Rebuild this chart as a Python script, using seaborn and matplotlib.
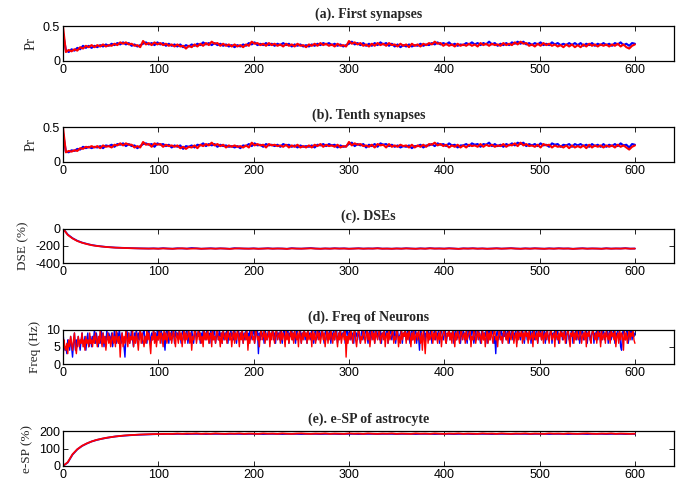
import matplotlib
matplotlib.use("Agg")
import matplotlib.pyplot as plt
from matplotlib.ticker import FormatStrFormatter
import seaborn as sns
import numpy as np

# ---- data (time axis 0..600) ----
# Pr, sampled every 3 time units
pr_first_blue = [
    0.40, 0.16, 0.13, 0.17, 0.15, 0.19, 0.17, 0.22, 0.19, 0.22,
    0.19, 0.22, 0.20, 0.23, 0.21, 0.24, 0.22, 0.25, 0.23, 0.26,
    0.24, 0.27, 0.24, 0.26, 0.22, 0.24, 0.21, 0.23, 0.25, 0.27,
    0.24, 0.26, 0.23, 0.27, 0.24, 0.26, 0.22, 0.25, 0.22, 0.24,
    0.21, 0.24, 0.20, 0.23, 0.21, 0.24, 0.22, 0.25, 0.23, 0.27,
    0.24, 0.26, 0.23, 0.26, 0.23, 0.25, 0.22, 0.24, 0.21, 0.23,
    0.20, 0.23, 0.21, 0.24, 0.22, 0.26, 0.24, 0.27, 0.23, 0.25,
    0.23, 0.26, 0.23, 0.25, 0.22, 0.25, 0.23, 0.26, 0.23, 0.25,
    0.21, 0.24, 0.22, 0.24, 0.21, 0.23, 0.21, 0.24, 0.22, 0.25,
    0.23, 0.26, 0.24, 0.26, 0.23, 0.25, 0.22, 0.24, 0.21, 0.23,
    0.25, 0.28, 0.24, 0.26, 0.23, 0.26, 0.22, 0.25, 0.22, 0.26,
    0.23, 0.27, 0.24, 0.26, 0.22, 0.25, 0.21, 0.24, 0.20, 0.23,
    0.21, 0.24, 0.21, 0.23, 0.22, 0.25, 0.22, 0.24, 0.23, 0.26,
    0.24, 0.27, 0.24, 0.26, 0.24, 0.27, 0.23, 0.25, 0.22, 0.24,
    0.23, 0.26, 0.24, 0.27, 0.24, 0.26, 0.23, 0.26, 0.24, 0.28,
    0.24, 0.26, 0.22, 0.25, 0.23, 0.26, 0.23, 0.27, 0.25, 0.28,
    0.25, 0.28, 0.24, 0.26, 0.23, 0.26, 0.24, 0.27, 0.23, 0.25,
    0.23, 0.27, 0.24, 0.26, 0.23, 0.25, 0.23, 0.26, 0.23, 0.26,
    0.23, 0.26, 0.22, 0.25, 0.23, 0.26, 0.22, 0.25, 0.23, 0.26,
    0.23, 0.25, 0.22, 0.26, 0.24, 0.27, 0.23, 0.25, 0.22, 0.26,
    0.25,
]
pr_first_red = [
    0.50, 0.13, 0.16, 0.14, 0.17, 0.15, 0.20, 0.18, 0.22, 0.20,
    0.23, 0.20, 0.23, 0.21, 0.24, 0.21, 0.23, 0.22, 0.25, 0.23,
    0.27, 0.25, 0.27, 0.24, 0.25, 0.22, 0.23, 0.20, 0.29, 0.24,
    0.26, 0.23, 0.27, 0.24, 0.26, 0.23, 0.25, 0.22, 0.24, 0.21,
    0.24, 0.21, 0.22, 0.18, 0.22, 0.20, 0.24, 0.21, 0.25, 0.22,
    0.26, 0.23, 0.28, 0.25, 0.26, 0.22, 0.25, 0.22, 0.24, 0.21,
    0.24, 0.21, 0.23, 0.20, 0.24, 0.22, 0.28, 0.25, 0.26, 0.23,
    0.25, 0.22, 0.26, 0.23, 0.25, 0.22, 0.24, 0.21, 0.25, 0.22,
    0.24, 0.21, 0.25, 0.22, 0.23, 0.20, 0.24, 0.22, 0.25, 0.22,
    0.26, 0.23, 0.25, 0.22, 0.24, 0.21, 0.25, 0.22, 0.23, 0.21,
    0.29, 0.25, 0.27, 0.24, 0.26, 0.22, 0.24, 0.21, 0.25, 0.22,
    0.26, 0.23, 0.25, 0.22, 0.26, 0.23, 0.24, 0.21, 0.25, 0.22,
    0.24, 0.20, 0.25, 0.22, 0.24, 0.21, 0.25, 0.23, 0.26, 0.24,
    0.28, 0.25, 0.26, 0.22, 0.25, 0.22, 0.24, 0.21, 0.25, 0.22,
    0.24, 0.22, 0.25, 0.22, 0.24, 0.21, 0.26, 0.23, 0.25, 0.22,
    0.25, 0.23, 0.24, 0.22, 0.26, 0.23, 0.25, 0.23, 0.27, 0.24,
    0.28, 0.25, 0.26, 0.22, 0.24, 0.21, 0.25, 0.22, 0.26, 0.23,
    0.25, 0.22, 0.24, 0.21, 0.23, 0.20, 0.24, 0.21, 0.24, 0.20,
    0.23, 0.20, 0.24, 0.21, 0.25, 0.22, 0.24, 0.21, 0.24, 0.22,
    0.24, 0.21, 0.24, 0.22, 0.25, 0.21, 0.24, 0.20, 0.18, 0.22,
    0.24,
]
pr_tenth_blue = [
    0.42, 0.15, 0.14, 0.17, 0.16, 0.19, 0.18, 0.22, 0.20, 0.22,
    0.20, 0.22, 0.21, 0.23, 0.20, 0.24, 0.23, 0.25, 0.22, 0.26,
    0.25, 0.27, 0.23, 0.26, 0.23, 0.24, 0.20, 0.23, 0.26, 0.27,
    0.25, 0.26, 0.22, 0.27, 0.25, 0.26, 0.23, 0.25, 0.21, 0.24,
    0.22, 0.24, 0.19, 0.23, 0.22, 0.24, 0.21, 0.25, 0.24, 0.27,
    0.23, 0.26, 0.24, 0.26, 0.22, 0.25, 0.23, 0.24, 0.22, 0.23,
    0.21, 0.23, 0.20, 0.24, 0.23, 0.26, 0.23, 0.27, 0.24, 0.25,
    0.22, 0.26, 0.24, 0.25, 0.23, 0.25, 0.22, 0.26, 0.24, 0.25,
    0.22, 0.24, 0.21, 0.24, 0.22, 0.23, 0.22, 0.24, 0.21, 0.25,
    0.24, 0.26, 0.23, 0.26, 0.24, 0.25, 0.21, 0.24, 0.22, 0.23,
    0.26, 0.28, 0.23, 0.26, 0.24, 0.26, 0.21, 0.25, 0.23, 0.26,
    0.22, 0.27, 0.25, 0.26, 0.23, 0.25, 0.22, 0.24, 0.21, 0.23,
    0.22, 0.24, 0.20, 0.23, 0.23, 0.25, 0.21, 0.24, 0.24, 0.26,
    0.23, 0.27, 0.25, 0.26, 0.23, 0.27, 0.24, 0.25, 0.21, 0.24,
    0.24, 0.26, 0.23, 0.27, 0.25, 0.26, 0.22, 0.26, 0.25, 0.28,
    0.23, 0.26, 0.23, 0.25, 0.22, 0.26, 0.24, 0.27, 0.24, 0.28,
    0.26, 0.28, 0.23, 0.26, 0.24, 0.26, 0.23, 0.27, 0.24, 0.25,
    0.22, 0.27, 0.25, 0.26, 0.22, 0.25, 0.24, 0.26, 0.22, 0.26,
    0.24, 0.26, 0.23, 0.25, 0.22, 0.26, 0.23, 0.25, 0.22, 0.26,
    0.22, 0.25, 0.23, 0.26, 0.23, 0.27, 0.24, 0.25, 0.21, 0.26,
    0.25,
]
pr_tenth_red = [
    0.50, 0.14, 0.16, 0.15, 0.17, 0.16, 0.20, 0.19, 0.22, 0.21,
    0.23, 0.21, 0.23, 0.20, 0.24, 0.22, 0.23, 0.21, 0.25, 0.24,
    0.27, 0.24, 0.27, 0.25, 0.25, 0.21, 0.23, 0.21, 0.29, 0.25,
    0.26, 0.22, 0.27, 0.25, 0.26, 0.22, 0.25, 0.23, 0.24, 0.22,
    0.24, 0.20, 0.22, 0.19, 0.22, 0.21, 0.24, 0.20, 0.25, 0.23,
    0.26, 0.24, 0.28, 0.24, 0.26, 0.23, 0.25, 0.21, 0.24, 0.22,
    0.24, 0.22, 0.23, 0.21, 0.24, 0.21, 0.28, 0.24, 0.26, 0.24,
    0.25, 0.21, 0.26, 0.24, 0.25, 0.23, 0.24, 0.22, 0.25, 0.21,
    0.24, 0.22, 0.25, 0.21, 0.23, 0.21, 0.24, 0.21, 0.25, 0.23,
    0.26, 0.22, 0.25, 0.23, 0.24, 0.22, 0.25, 0.21, 0.23, 0.22,
    0.29, 0.24, 0.27, 0.25, 0.26, 0.23, 0.24, 0.22, 0.25, 0.21,
    0.26, 0.24, 0.25, 0.21, 0.26, 0.22, 0.24, 0.22, 0.25, 0.23,
    0.24, 0.21, 0.25, 0.21, 0.24, 0.22, 0.25, 0.22, 0.26, 0.25,
    0.28, 0.24, 0.26, 0.23, 0.25, 0.21, 0.24, 0.22, 0.25, 0.21,
    0.24, 0.21, 0.25, 0.23, 0.24, 0.22, 0.26, 0.22, 0.25, 0.23,
    0.25, 0.22, 0.24, 0.23, 0.26, 0.22, 0.25, 0.24, 0.27, 0.23,
    0.28, 0.24, 0.26, 0.23, 0.24, 0.22, 0.25, 0.21, 0.26, 0.24,
    0.25, 0.21, 0.24, 0.22, 0.23, 0.21, 0.24, 0.20, 0.24, 0.21,
    0.23, 0.21, 0.24, 0.20, 0.25, 0.21, 0.24, 0.22, 0.24, 0.21,
    0.24, 0.22, 0.24, 0.21, 0.25, 0.22, 0.24, 0.21, 0.18, 0.22,
    0.24,
]

# DSE (%), sampled every 5 time units
dse_blue = [
    0, -70, -112, -142, -163, -178, -191, -200, -207, -213,
    -217, -221, -223, -225, -227, -229, -230, -231, -232, -230,
    -233, -228, -232, -234, -229, -231, -233, -226, -230, -234,
    -232, -229, -233, -230, -232, -235, -228, -231, -232, -233,
    -230, -234, -232, -229, -233, -231, -232, -235, -228, -232,
    -233, -230, -227, -232, -234, -231, -233, -229, -232, -230,
    -234, -232, -229, -233, -231, -232, -228, -233, -232, -234,
    -231, -233, -229, -232, -234, -230, -233, -228, -232, -231,
    -233, -229, -232, -235, -230, -232, -229, -233, -231, -234,
    -232, -229, -233, -231, -228, -232, -234, -230, -233, -229,
    -232, -234, -230, -233, -229, -232, -231, -235, -232, -229,
    -233, -231, -232, -234, -229, -233, -231, -232, -228, -233,
    -232,
]
dse_red = [
    0, -75, -115, -145, -165, -180, -193, -202, -208, -214,
    -218, -222, -224, -226, -228, -229, -231, -232, -233, -232,
    -234, -231, -233, -235, -232, -230, -234, -233, -231, -235,
    -233, -232, -234, -231, -233, -236, -232, -230, -233, -234,
    -232, -235, -233, -231, -234, -232, -233, -236, -231, -233,
    -234, -232, -230, -233, -235, -232, -234, -231, -233, -232,
    -235, -233, -231, -234, -232, -233, -230, -234, -233, -235,
    -232, -234, -231, -233, -235, -232, -234, -230, -233, -232,
    -234, -231, -233, -236, -232, -233, -231, -234, -232, -235,
    -233, -231, -234, -232, -230, -233, -235, -232, -234, -231,
    -233, -235, -232, -234, -231, -233, -232, -236, -233, -231,
    -234, -232, -233, -235, -231, -234, -232, -233, -230, -234,
    -233,
]

# firing frequency (Hz), every time unit
freq_blue = [
    9, 6, 4, 5, 3, 7, 6, 4, 8, 5, 2, 6, 9, 4, 7, 5, 8, 6, 4, 7, 9, 6, 5, 8, 4, 7, 9, 5, 6, 8,
    5, 8, 7, 10, 6, 9, 7, 5, 8, 6, 10, 7, 9, 5, 8, 6, 10, 7, 9, 8, 6, 9, 5, 7, 10, 8, 6, 9, 7, 10,
    8, 6, 9, 7, 5, 2, 8, 10, 7, 9, 6, 8, 10, 7, 5, 9, 8, 10, 6, 9, 7, 10, 8, 6, 9, 10, 7, 8, 6, 9,
    10, 8, 6, 9, 7, 10, 8, 9, 6, 10, 7, 9, 8, 10, 6, 9, 7, 4, 9, 10, 8, 6, 9, 7, 10, 8, 9, 6, 10, 8,
    9, 7, 10, 8, 6, 9, 10, 7, 8, 9, 10, 6, 8, 9, 7, 10, 8, 6, 9, 10, 7, 9, 8, 10, 6, 9, 7, 10, 8, 9,
    7, 10, 8, 9, 6, 10, 8, 7, 9, 10, 6, 8, 9, 7, 10, 8, 9, 6, 10, 7, 9, 8, 10, 6, 9, 7, 10, 8, 9, 7,
    10, 8, 6, 9, 10, 7, 9, 8, 10, 6, 9, 7, 10, 8, 9, 6, 10, 7, 8, 9, 10, 6, 8, 9, 10, 3, 9, 7, 10, 8,
    9, 6, 10, 8, 7, 9, 10, 6, 8, 9, 10, 7, 9, 6, 10, 8, 9, 7, 10, 8, 6, 9, 10, 7, 8, 9, 10, 6, 9, 8,
    10, 7, 9, 8, 6, 10, 9, 7, 8, 10, 6, 9, 8, 10, 7, 9, 6, 10, 8, 9, 7, 10, 8, 6, 9, 10, 7, 8, 9, 10,
    7, 9, 10, 8, 6, 9, 10, 7, 8, 9, 10, 6, 9, 8, 10, 7, 9, 10, 6, 8, 9, 10, 7, 9, 8, 10, 6, 9, 10, 8,
    9, 10, 7, 8, 9, 6, 10, 8, 9, 7, 10, 8, 6, 9, 10, 8, 7, 9, 10, 8, 6, 9, 10, 7, 9, 8, 10, 6, 9, 10,
    8, 9, 7, 10, 6, 9, 8, 10, 7, 9, 10, 6, 8, 9, 10, 7, 9, 8, 10, 6, 9, 10, 7, 8, 9, 10, 6, 9, 8, 10,
    7, 9, 10, 8, 6, 9, 10, 7, 8, 9, 10, 6, 9, 8, 4, 10, 9, 7, 8, 10, 6, 9, 8, 10, 7, 9, 10, 6, 8, 9,
    10, 7, 9, 8, 10, 6, 9, 10, 8, 7, 9, 10, 6, 8, 9, 10, 7, 9, 8, 10, 6, 9, 10, 7, 8, 9, 10, 6, 9, 8,
    10, 7, 9, 8, 6, 10, 9, 7, 8, 10, 9, 6, 8, 10, 7, 9, 10, 8, 6, 9, 10, 7, 9, 8, 10, 6, 9, 10, 7, 8,
    9, 10, 6, 8, 3, 9, 10, 7, 8, 9, 10, 6, 9, 8, 10, 7, 9, 10, 6, 8, 9, 10, 7, 9, 8, 10, 6, 9, 10, 8,
    7, 9, 10, 8, 6, 9, 10, 7, 9, 8, 10, 6, 9, 10, 8, 7, 9, 10, 6, 8, 9, 10, 7, 9, 8, 10, 6, 9, 10, 7,
    8, 9, 10, 6, 9, 8, 10, 7, 9, 10, 6, 8, 9, 10, 7, 9, 8, 10, 6, 9, 10, 7, 8, 9, 10, 6, 9, 8, 10, 7,
    9, 10, 6, 8, 9, 10, 7, 9, 8, 10, 6, 9, 10, 7, 8, 9, 10, 6, 9, 8, 10, 7, 9, 10, 6, 8, 9, 10, 7, 9,
    8, 10, 6, 9, 10, 7, 8, 9, 10, 6, 9, 8, 10, 7, 9, 5, 4, 9, 10, 8, 7, 9, 10, 6, 8, 9, 10, 7, 9, 8,
    9,
]
freq_red = [
    0, 7, 5, 4, 6, 3, 7, 5, 8, 6, 4, 7, 9, 5, 3, 6, 8, 5, 7, 6, 9, 5, 7, 4, 8, 6, 7, 5, 9, 6,
    7, 5, 8, 6, 9, 7, 5, 8, 6, 10, 7, 5, 9, 6, 8, 4, 7, 9, 6, 8, 5, 7, 9, 6, 8, 5, 10, 7, 6, 8,
    2, 7, 9, 5, 8, 6, 10, 7, 5, 9, 6, 8, 7, 10, 5, 8, 6, 9, 7, 4, 8, 10, 6, 9, 7, 5, 8, 6, 10, 7,
    9, 6, 3, 8, 7, 10, 6, 9, 5, 8, 7, 10, 6, 9, 8, 5, 10, 7, 9, 6, 8, 10, 7, 9, 6, 8, 10, 7, 5, 9,
    8, 6, 10, 7, 9, 5, 8, 10, 6, 9, 7, 8, 10, 6, 9, 4, 8, 7, 10, 9, 6, 8, 10, 7, 9, 6, 8, 5, 10, 7,
    9, 7, 10, 6, 8, 9, 5, 10, 7, 8, 6, 9, 10, 7, 8, 5, 9, 6, 10, 8, 7, 9, 6, 10, 8, 7, 9, 5, 8, 10,
    6, 9, 7, 10, 8, 5, 9, 7, 10, 6, 8, 9, 7, 10, 4, 8, 6, 9, 10, 7, 8, 6, 10, 9, 7, 8, 5, 9, 10, 7,
    8, 10, 6, 9, 7, 8, 10, 5, 9, 7, 10, 8, 6, 9, 10, 7, 8, 9, 6, 10, 7, 9, 8, 5, 10, 7, 9, 6, 8, 10,
    7, 9, 6, 10, 8, 7, 9, 5, 10, 8, 6, 9, 7, 10, 8, 9, 6, 10, 7, 8, 9, 5, 10, 7, 9, 6, 8, 10, 7, 9,
    6, 8, 10, 7, 9, 5, 8, 10, 6, 9, 7, 10, 8, 6, 9, 7, 10, 8, 5, 9, 7, 10, 6, 8, 9, 7, 10, 2, 8, 6,
    9, 7, 10, 8, 6, 9, 10, 7, 5, 8, 10, 9, 6, 8, 7, 10, 9, 6, 8, 10, 7, 9, 5, 8, 10, 7, 9, 6, 10, 8,
    7, 9, 10, 6, 8, 9, 7, 10, 5, 8, 9, 6, 10, 7, 8, 9, 10, 6, 8, 7, 10, 9, 5, 8, 6, 10, 7, 9, 8, 10,
    6, 9, 7, 10, 8, 5, 9, 7, 10, 6, 8, 9, 7, 10, 8, 6, 9, 4, 10, 7, 3, 8, 10, 6, 9, 7, 8, 10, 6, 9,
    7, 10, 8, 6, 9, 7, 10, 5, 8, 9, 10, 7, 6, 9, 8, 10, 7, 9, 6, 10, 8, 5, 9, 7, 10, 8, 6, 9, 10, 7,
    8, 9, 6, 10, 7, 8, 9, 10, 5, 8, 7, 10, 9, 6, 8, 10, 7, 9, 8, 6, 10, 7, 9, 5, 8, 10, 6, 9, 7, 10,
    8, 6, 9, 10, 7, 8, 5, 9, 10, 7, 8, 6, 9, 10, 8, 7, 9, 6, 10, 8, 7, 9, 10, 6, 8, 9, 5, 10, 7, 9,
    8, 10, 6, 9, 7, 10, 8, 9, 6, 10, 7, 8, 9, 5, 10, 8, 7, 9, 6, 10, 8, 9, 7, 10, 6, 8, 9, 7, 10, 8,
    6, 9, 10, 7, 8, 9, 5, 10, 8, 7, 9, 6, 10, 8, 9, 7, 10, 6, 8, 9, 10, 7, 5, 9, 8, 10, 6, 9, 7, 10,
    8, 7, 9, 10, 6, 8, 9, 7, 10, 5, 9, 8, 10, 7, 6, 9, 10, 8, 7, 9, 6, 10, 8, 9, 5, 10, 7, 8, 9, 6,
    10, 8, 7, 9, 6, 10, 8, 9, 7, 10, 5, 8, 9, 6, 10, 7, 9, 8, 4, 10, 7, 9, 6, 8, 10, 7, 9, 8, 10, 7,
    6,
]

# e-SP (%), sampled every 5 time units
esp_blue = [
    0, 20, 66, 96, 116, 130, 142, 150, 157, 162,
    167, 171, 174, 176, 178, 180, 181, 182, 183, 184,
    185, 185, 186, 185, 186, 186, 185, 186, 186, 186,
    185, 186, 186, 186, 185, 186, 186, 186, 185, 186,
    186, 186, 185, 186, 186, 186, 185, 186, 186, 186,
    185, 186, 186, 186, 185, 186, 186, 186, 185, 186,
    186, 186, 185, 186, 186, 186, 185, 186, 186, 186,
    185, 186, 186, 186, 185, 186, 186, 186, 185, 186,
    186, 186, 185, 186, 186, 186, 185, 186, 186, 186,
    185, 186, 186, 186, 185, 186, 186, 186, 185, 186,
    186, 186, 185, 186, 186, 186, 185, 186, 186, 186,
    185, 186, 186, 186, 185, 186, 186, 186, 185, 186,
    186,
]
esp_red = [
    0, 22, 68, 97, 117, 131, 142, 151, 157, 163,
    167, 171, 174, 177, 179, 180, 182, 183, 184, 185,
    185, 186, 186, 186, 188, 186, 188, 187, 189, 186,
    188, 186, 189, 187, 186, 188, 187, 189, 186, 188,
    187, 186, 189, 187, 188, 186, 189, 187, 186, 188,
    189, 187, 186, 188, 187, 189, 186, 188, 187, 186,
    189, 187, 188, 186, 189, 187, 186, 188, 187, 189,
    186, 188, 187, 186, 189, 187, 188, 186, 189, 187,
    186, 188, 187, 189, 186, 188, 187, 186, 189, 187,
    188, 186, 189, 187, 186, 188, 187, 189, 186, 188,
    187, 186, 189, 187, 188, 186, 189, 187, 186, 188,
    189, 187, 186, 188, 187, 189, 186, 188, 187, 186,
    187,
]

titles = ["(a). First synapses", "(b). Tenth synapses", "(c). DSEs",
          "(d). Freq of Neurons", "(e). e-SP of astrocyte"]
ylabels = ["Pr", "Pr", "DSE (%)", "Freq (Hz)", "e-SP (%)"]
ylabel_size = [10.5, 10.5, 9.5, 9.5, 9.5]
yticks = [[0, 0.5], [0, 0.5], [-400, -200, 0], [0, 5, 10], [0, 100, 200]]
series = [(pr_first_blue, pr_first_red), (pr_tenth_blue, pr_tenth_red),
          (dse_blue, dse_red), (freq_blue, freq_red), (esp_blue, esp_red)]
line_w = [1.5, 1.5, 1.3, 1.0, 1.3]

sns.set_style("ticks")
plt.rcParams["font.family"] = ["Liberation Sans", "DejaVu Sans"]
plt.rcParams["axes.unicode_minus"] = False

fig = plt.figure(figsize=(6.97, 4.86), dpi=100)
bottoms = [0.8745, 0.6667, 0.4588, 0.2510, 0.0412]

for i, (blue, red) in enumerate(series):
    ax = fig.add_axes([0.0904, bottoms[i], 0.8766, 0.071])
    t_b = np.linspace(0, 600, len(blue))
    t_r = np.linspace(0, 600, len(red))
    sns.lineplot(x=t_b, y=blue, ax=ax, color="#0000ff", linewidth=line_w[i],
                 estimator=None, sort=False)
    sns.lineplot(x=t_r, y=red, ax=ax, color="#ff0000", linewidth=line_w[i],
                 estimator=None, sort=False)
    ax.set_xlim(0, 641)
    ax.set_ylim(yticks[i][0], yticks[i][-1])
    ax.set_xticks([0, 100, 200, 300, 400, 500, 600])
    ax.set_yticks(yticks[i])
    ax.yaxis.set_major_formatter(FormatStrFormatter("%g"))
    ax.tick_params(direction="in", top=True, right=True, length=3.5,
                   width=0.6, labelsize=9, pad=2, colors="black")
    for sp in ax.spines.values():
        sp.set_linewidth(0.9)
        sp.set_color("black")
    ax.set_title(titles[i], fontsize=10, fontweight="bold",
                 family="Liberation Serif", pad=6)
    ax.set_ylabel(ylabels[i], fontsize=ylabel_size[i],
                  family="Liberation Serif", labelpad=4)

fig.savefig("out.png", dpi=100)
